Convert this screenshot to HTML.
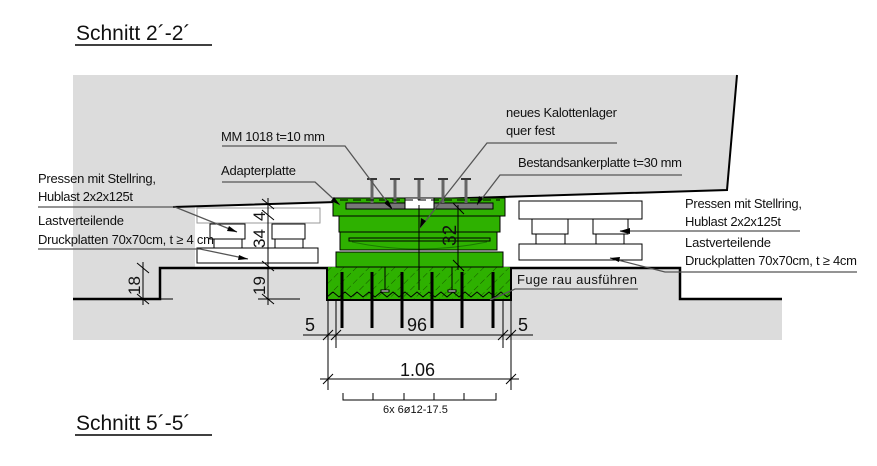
<!DOCTYPE html>
<html><head><meta charset="utf-8"><style>
html,body{margin:0;padding:0;background:#fff;}
svg{display:block;}
text{font-family:"Liberation Sans",sans-serif;fill:#111;}
.s{font-size:13px;}
</style></head><body>
<svg width="877" height="466" viewBox="0 0 877 466" xmlns="http://www.w3.org/2000/svg">
<defs>
<pattern id="h" width="9" height="9" patternUnits="userSpaceOnUse" patternTransform="rotate(45)">
<rect width="9" height="9" fill="#2eb100"/><line x1="0" y1="0" x2="0" y2="9" stroke="#145200" stroke-width="1" stroke-dasharray="5,3"/>
</pattern>
</defs>
<rect x="73" y="75" width="709" height="265" fill="#dcdcdc"/>
<polygon points="195,206 727,190 737,75 877,75 877,340 782,340 782,299 680,299 680,268 195,268" fill="#fff"/>
<polyline points="737,75 727,190 173,207" fill="none" stroke="#000" stroke-width="2"/>
<polyline points="73,299 160,299 160,268 680,268 680,299 782,299" fill="none" stroke="#000" stroke-width="2.5"/>

<text x="76" y="40" font-size="21">Schnitt 2´-2´</text>
<line x1="75" y1="45" x2="212" y2="45" stroke="#000" stroke-width="1.5"/>
<text x="76" y="430" font-size="21">Schnitt 5´-5´</text>
<line x1="75" y1="435" x2="212" y2="435" stroke="#000" stroke-width="1.5"/>

<g fill="#fff" stroke="#000" stroke-width="1">
<rect x="197" y="208" width="123" height="15" stroke="#999"/>
<rect x="210" y="224" width="35" height="15"/><rect x="272" y="224" width="33" height="15"/>
<rect x="214" y="239" width="28" height="9"/><rect x="275" y="239" width="28" height="9"/>
<rect x="197" y="248" width="121" height="15"/>
<rect x="519" y="201" width="123" height="18"/>
<rect x="532" y="219" width="36" height="15"/><rect x="593" y="219" width="35" height="15"/>
<rect x="536" y="234" width="29" height="10"/><rect x="596" y="234" width="28" height="10"/>
<rect x="519" y="244" width="123" height="16"/>
</g>

<g stroke="#000" stroke-width="1">
<rect x="327" y="267" width="184" height="33" fill="url(#h)" stroke="none"/>
<polyline points="327,267 327,300 511,300 511,267" fill="none" stroke-width="2"/>
<polyline points="327,297 333,292 339,297 345,292 351,297 357,292 363,297 369,292 375,297 381,292 387,297 393,292 399,297 405,292 411,297 417,292 423,297 429,292 435,297 441,292 447,297 453,292 459,297 465,292 471,297 477,292 483,297 489,292 495,297 501,292 507,297 511,294" fill="none" stroke="#000" stroke-width="1"/>
<rect x="336" y="252" width="167" height="15" fill="#2eb100"/>
<rect x="340" y="232" width="157" height="18" fill="#2eb100"/>
<rect x="349" y="238" width="141" height="3" fill="none"/>
<path d="M352,242 Q419,256 487,242" fill="none" stroke="#1a7a00"/>
<rect x="339" y="216" width="161" height="16" fill="#2eb100"/>
<rect x="333" y="198" width="172" height="18" fill="#2eb100"/>
<rect x="346" y="203" width="147" height="6" fill="#777"/>
<rect x="405" y="198" width="29" height="11" fill="#fff"/>
</g>
<g stroke="#666" stroke-width="3">
<line x1="372" y1="180" x2="372" y2="203"/><line x1="395" y1="180" x2="395" y2="203"/>
<line x1="419" y1="180" x2="419" y2="200"/><line x1="443" y1="180" x2="443" y2="203"/><line x1="466" y1="180" x2="466" y2="203"/>
</g>
<g stroke="#000" stroke-width="1.5">
<line x1="367" y1="179" x2="377" y2="179"/><line x1="390" y1="179" x2="400" y2="179"/><line x1="414" y1="179" x2="424" y2="179"/><line x1="438" y1="179" x2="448" y2="179"/><line x1="461" y1="179" x2="471" y2="179"/>
</g>
<line x1="340" y1="200" x2="500" y2="200" stroke="#000" stroke-dasharray="8,5"/>
<g stroke="#000" stroke-width="3">
<line x1="342" y1="272" x2="342" y2="328"/><line x1="372" y1="272" x2="372" y2="328"/><line x1="402" y1="272" x2="402" y2="328"/>
<line x1="432" y1="272" x2="432" y2="328"/><line x1="462" y1="272" x2="462" y2="328"/><line x1="493" y1="272" x2="493" y2="328"/>
</g>
<g stroke="#000" stroke-width="1" fill="#fff">
<line x1="385" y1="267" x2="385" y2="290"/><line x1="452" y1="267" x2="452" y2="290"/>
<rect x="381" y="290" width="8" height="2"/><rect x="448" y="290" width="8" height="2"/>
</g>
<g stroke="#000" stroke-width="1">
<line x1="419" y1="205" x2="419" y2="290"/><line x1="458" y1="205" x2="458" y2="270"/>
<line x1="453" y1="203" x2="464" y2="214"/><line x1="453" y1="260" x2="464" y2="271"/>
</g>
<text transform="translate(456,246) rotate(-90)" font-size="19">32</text>

<g stroke="#000" stroke-width="1">
<line x1="268" y1="198" x2="268" y2="305"/>
<line x1="262" y1="199" x2="274" y2="209"/><line x1="262" y1="210" x2="274" y2="220"/>
<line x1="262" y1="261" x2="274" y2="271"/><line x1="262" y1="294" x2="274" y2="304"/>
<line x1="258" y1="299" x2="300" y2="299"/>
<line x1="143" y1="262" x2="143" y2="305"/>
<line x1="137" y1="263" x2="149" y2="273"/><line x1="137" y1="294" x2="149" y2="304"/>
<line x1="137" y1="299" x2="173" y2="299"/>
</g>
<text transform="translate(265,221) rotate(-90)" font-size="17">4</text>
<text transform="translate(265,248) rotate(-90)" font-size="17">34</text>
<text transform="translate(265,295) rotate(-90)" font-size="17">19</text>
<text transform="translate(140,295) rotate(-90)" font-size="17">18</text>

<g stroke="#000" stroke-width="1">
<line x1="303" y1="335" x2="533" y2="335"/>
<line x1="328" y1="300" x2="328" y2="390"/><line x1="336" y1="300" x2="336" y2="348"/>
<line x1="503" y1="300" x2="503" y2="348"/><line x1="511" y1="300" x2="511" y2="390"/>
<line x1="323" y1="340" x2="333" y2="330"/><line x1="331" y1="340" x2="341" y2="330"/>
<line x1="498" y1="340" x2="508" y2="330"/><line x1="506" y1="340" x2="516" y2="330"/>
<line x1="320" y1="379" x2="519" y2="379"/>
<line x1="323" y1="384" x2="333" y2="374"/><line x1="506" y1="384" x2="516" y2="374"/>
<polyline points="343,393 343,400 496,400 496,393" fill="none"/>
<line x1="373" y1="393" x2="373" y2="400"/><line x1="404" y1="393" x2="404" y2="400"/><line x1="434" y1="393" x2="434" y2="400"/><line x1="464" y1="393" x2="464" y2="400"/>
</g>
<text x="305" y="331" font-size="18">5</text>
<text x="407" y="331" font-size="18">96</text>
<text x="518" y="331" font-size="18">5</text>
<text x="400" y="376" font-size="18">1.06</text>
<text x="383" y="413" font-size="11">6x 6ø12-17.5</text>

<g class="s">
<text x="221" y="141" textLength="104">MM 1018 t=10 mm</text>
<text x="221" y="175" textLength="75">Adapterplatte</text>
<text x="506" y="117" textLength="111">neues Kalottenlager</text>
<text x="506" y="135" textLength="49">quer fest</text>
<text x="518" y="167" textLength="164">Bestandsankerplatte t=30 mm</text>
<text x="517" y="284" textLength="120">Fuge rau ausführen</text>
<text x="38" y="183" textLength="118">Pressen mit Stellring,</text>
<text x="38" y="201" textLength="95">Hublast 2x2x125t</text>
<text x="38" y="225" textLength="86">Lastverteilende</text>
<text x="38" y="244" textLength="176">Druckplatten 70x70cm, t ≥ 4 cm</text>
<text x="685" y="208" textLength="117">Pressen mit Stellring,</text>
<text x="685" y="226" textLength="96">Hublast 2x2x125t</text>
<text x="685" y="247" textLength="86">Lastverteilende</text>
<text x="685" y="265" textLength="172">Druckplatten 70x70cm, t ≥ 4cm</text>
</g>
<g stroke="#555" stroke-width="1.3" fill="none">
<polyline points="222,146 345,146 393,210"/>
<polyline points="222,182 315,182 340,205"/>
<polyline points="617,143 487,143 420,228"/>
<polyline points="682,175 500,175 477,205"/>
<polyline points="638,289 515,289 490,300"/>
<polyline points="38,207 175,207 237,232"/>
<polyline points="38,249 200,249 248,259"/>
<polyline points="800,231 685,231 620,231 628,233"/>
<polyline points="857,272 665,272 610,258"/>
</g>
<g fill="#000">
<polygon points="393,210 384,203 388,200"/>
<polygon points="340,205 331,201 334,197"/>
<polygon points="420,228 421,218 426,221"/>
<polygon points="477,205 479,196 483,199"/>
<polygon points="237,232 227,231 229,226"/>
<polygon points="248,259 238,260 239,255"/>
<polygon points="610,258 620,257 619,262"/>
<polygon points="620,231 630,228 630,234"/>
</g>
</svg>
</body></html>
